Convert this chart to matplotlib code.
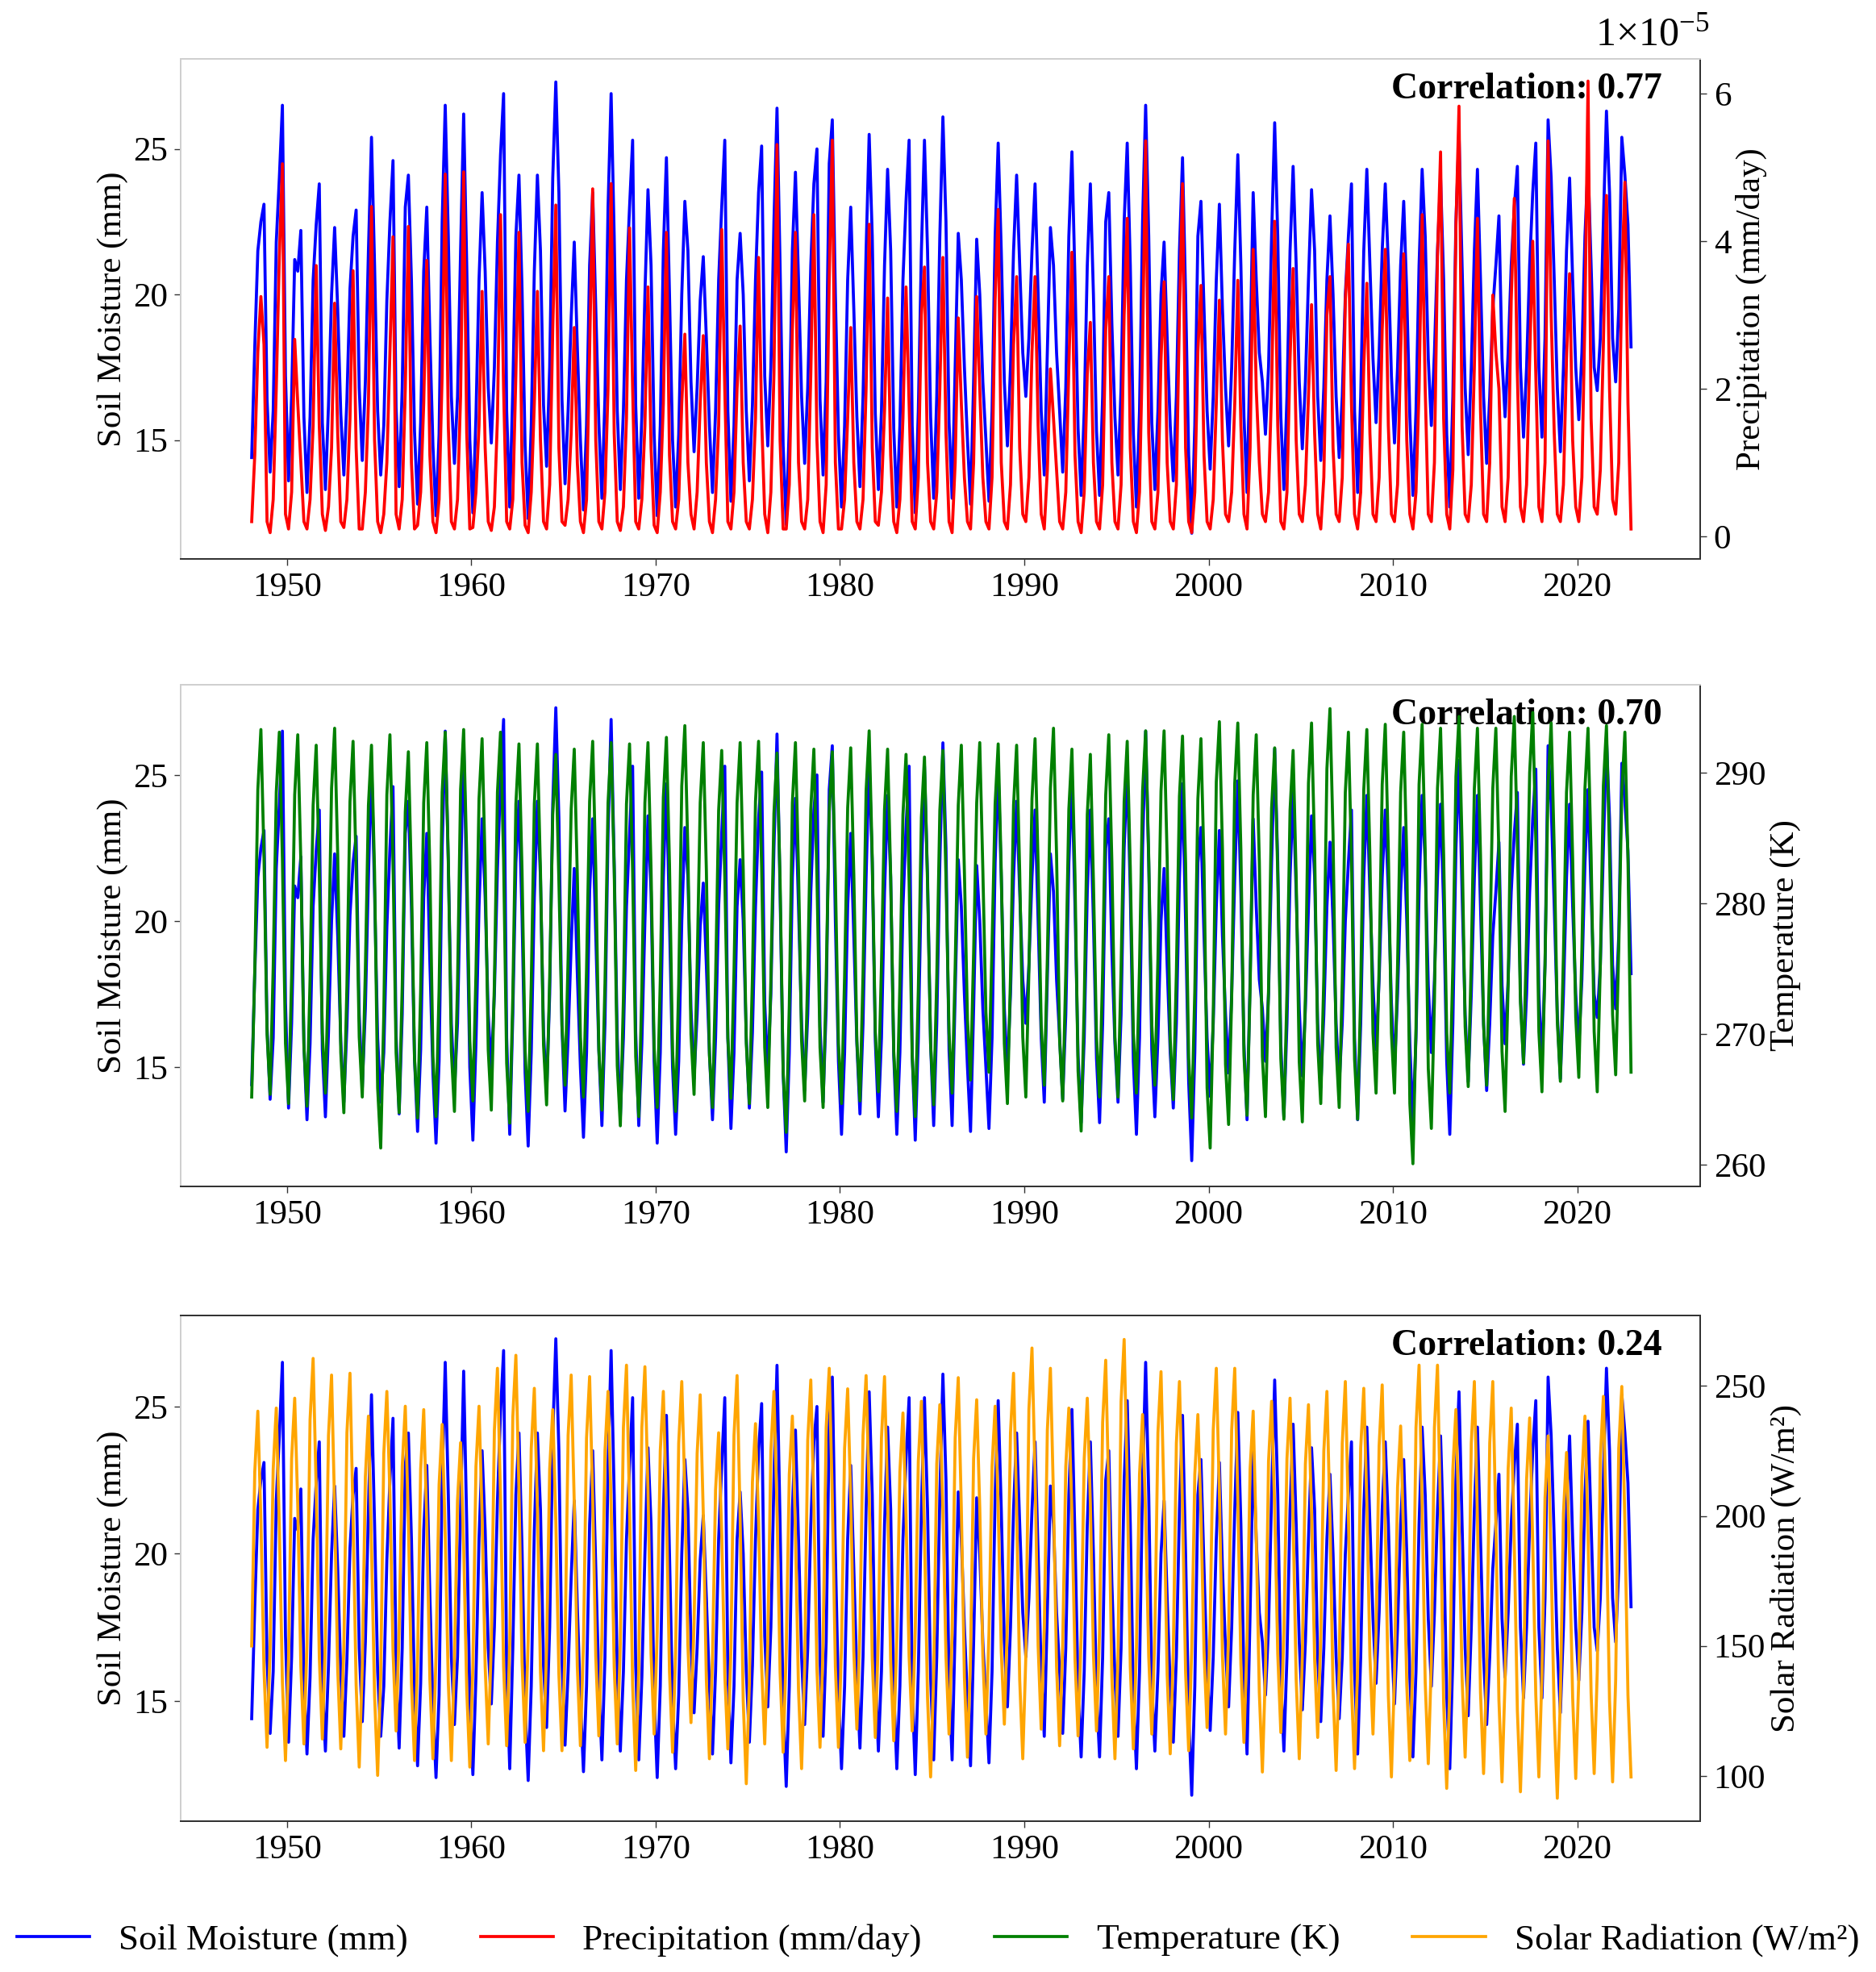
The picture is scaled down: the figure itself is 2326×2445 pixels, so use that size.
import matplotlib
matplotlib.use("Agg")
import matplotlib.pyplot as plt
from matplotlib.ticker import FixedLocator
from matplotlib.lines import Line2D

plt.rcParams['font.family'] = ['Liberation Serif', 'DejaVu Serif']
plt.rcParams['mathtext.fontset'] = 'custom'
plt.rcParams['mathtext.rm'] = 'Liberation Serif'
plt.rcParams['mathtext.it'] = 'Liberation Serif:italic'
plt.rcParams['mathtext.bf'] = 'Liberation Serif:bold'

# ---------------- data (bimonthly samples: Feb, Apr, Jun, Aug, Oct, Dec) ----------------
years = list(range(1948, 2023))
sample_months = [2, 4, 6, 8, 10, 12]
x_ticks = [1950, 1960, 1970, 1980, 1990, 2000, 2010, 2020]

soil_moisture = [
    14.4, 18.2, 21.5, 22.5, 23.1, 16.4,   # 1948
    13.9, 16.0, 21.8, 24.0, 26.5, 17.2,
    13.6, 16.5, 21.2, 20.8, 22.2, 15.8,   # 1950
    13.2, 15.8, 20.5, 22.4, 23.8, 15.6,
    13.3, 16.2, 20.0, 22.3, 19.5, 15.9,
    13.8, 16.4, 20.2, 22.0, 22.9, 16.8,
    14.3, 17.0, 21.5, 25.4, 21.0, 16.0,
    13.8, 15.5, 19.8, 22.5, 24.6, 16.1,   # 1955
    13.4, 16.8, 23.0, 24.1, 20.5, 15.3,
    12.8, 15.6, 20.8, 23.0, 18.6, 14.8,
    12.4, 15.2, 22.5, 26.5, 22.0, 16.5,
    14.2, 16.5, 21.5, 26.2, 21.0, 15.0,
    12.5, 15.8, 20.5, 23.5, 20.8, 16.8,   # 1960
    14.9, 17.5, 21.8, 24.8, 26.9, 16.0,
    12.7, 16.8, 22.0, 24.1, 20.2, 14.8,
    12.3, 15.5, 20.8, 24.1, 21.5, 16.2,
    14.1, 17.5, 24.0, 27.3, 23.5, 16.4,
    13.5, 16.0, 19.2, 21.8, 18.2, 15.0,   # 1965
    12.6, 15.5, 21.0, 23.5, 19.5, 15.6,
    13.0, 16.5, 23.0, 26.9, 22.0, 16.0,
    13.3, 16.0, 20.5, 23.0, 25.3, 16.2,
    13.0, 15.8, 20.0, 23.6, 21.0, 15.2,
    12.4, 15.5, 21.5, 24.7, 20.0, 15.0,   # 1970
    12.7, 15.2, 20.0, 23.2, 21.5, 17.0,
    14.6, 16.8, 19.8, 21.3, 18.5, 15.5,
    13.2, 16.0, 20.5, 23.0, 25.3, 16.0,
    12.9, 15.5, 20.5, 22.1, 20.0, 16.0,
    13.6, 16.2, 20.5, 23.5, 25.1, 17.2,   # 1975
    14.8, 17.5, 22.5, 26.4, 21.0, 14.8,
    12.1, 15.5, 21.5, 24.2, 20.5, 16.5,
    14.2, 16.8, 21.0, 23.8, 25.0, 16.4,
    13.8, 17.0, 24.5, 26.0, 20.0, 15.2,
    12.7, 15.5, 20.5, 23.0, 19.5, 15.8,   # 1980
    13.4, 16.5, 21.5, 25.5, 22.0, 15.9,
    13.3, 16.0, 21.0, 24.3, 21.5, 15.4,
    12.7, 15.5, 20.5, 23.2, 25.3, 15.5,
    12.5, 16.0, 21.5, 25.3, 21.5, 15.8,
    13.0, 16.5, 22.0, 26.1, 22.5, 15.6,   # 1985
    13.0, 17.5, 22.1, 20.5, 17.5, 15.0,
    12.8, 17.0, 21.9, 20.0, 17.0, 15.0,
    12.9, 16.0, 22.0, 25.2, 21.5, 17.0,
    14.8, 17.5, 21.5, 24.1, 21.0, 18.0,
    16.5, 18.5, 21.5, 23.8, 20.0, 16.0,   # 1990
    13.8, 18.0, 22.3, 21.0, 18.0, 16.0,
    13.9, 16.8, 22.0, 24.9, 20.5, 15.4,
    13.1, 16.0, 21.0, 23.8, 20.0, 15.3,
    13.1, 16.5, 22.5, 23.5, 19.0, 15.8,
    13.8, 16.8, 22.5, 25.2, 21.0, 15.2,   # 1995
    12.7, 16.0, 22.5, 26.5, 22.0, 15.6,
    13.3, 16.0, 20.0, 21.8, 18.5, 15.5,
    13.6, 16.5, 21.5, 24.7, 20.0, 14.5,
    11.8, 15.5, 22.0, 23.2, 19.5, 16.0,
    14.0, 16.5, 20.5, 23.1, 19.5, 16.8,   # 2000
    14.8, 17.5, 21.5, 24.8, 21.0, 15.8,
    13.2, 18.0, 23.5, 20.5, 18.0, 17.0,
    15.2, 17.5, 22.0, 25.9, 22.0, 15.8,
    13.3, 16.5, 21.5, 24.4, 21.0, 17.0,
    14.7, 17.0, 20.5, 23.6, 21.5, 16.5,   # 2005
    14.3, 16.8, 20.5, 22.7, 20.0, 16.5,
    14.4, 16.5, 20.0, 22.0, 23.8, 16.0,
    13.2, 16.5, 21.5, 24.3, 21.0, 17.8,
    15.6, 18.0, 21.5, 23.8, 21.0, 17.2,
    14.9, 17.5, 21.0, 23.2, 20.0, 15.8,   # 2010
    13.1, 16.0, 21.0, 24.3, 22.0, 17.8,
    15.5, 18.0, 21.5, 24.0, 20.5, 15.2,
    12.7, 16.5, 22.5, 25.5, 21.0, 16.8,
    14.5, 17.5, 21.5, 24.3, 20.5, 16.5,
    14.2, 16.5, 19.5, 21.0, 22.7, 17.8,   # 2015
    15.8, 18.0, 21.0, 23.0, 24.4, 17.5,
    15.1, 17.5, 21.0, 23.5, 25.2, 17.5,
    15.1, 18.5, 26.0, 24.0, 20.5, 16.8,
    14.6, 17.5, 21.5, 24.0, 20.5, 17.5,
    15.7, 18.0, 22.0, 24.5, 21.0, 17.5,   # 2020
    16.7, 18.5, 22.5, 26.3, 23.5, 18.5,
    17.0, 19.5, 25.4, 24.1, 22.4, 18.2,   # 2022
]

# precipitation in units of 1e-5
precipitation = [
    0.20, 1.10, 2.50, 3.25, 2.60, 0.20,   # 1948
    0.05, 0.50, 2.00, 3.80, 5.05, 0.30,
    0.10, 0.60, 2.67, 1.80, 1.00, 0.20,   # 1950
    0.10, 0.50, 1.50, 3.67, 1.50, 0.30,
    0.08, 0.40, 1.20, 3.16, 1.40, 0.20,
    0.12, 0.50, 1.60, 3.60, 1.20, 0.10,
    0.10, 0.60, 1.80, 4.47, 1.30, 0.20,
    0.05, 0.30, 1.00, 2.50, 4.06, 0.30,   # 1955
    0.10, 0.50, 2.00, 4.20, 1.00, 0.10,
    0.15, 0.60, 1.80, 3.74, 1.10, 0.20,
    0.05, 0.50, 2.20, 4.91, 1.50, 0.20,
    0.10, 0.50, 1.90, 4.94, 1.40, 0.10,
    0.12, 0.60, 1.50, 3.32, 1.20, 0.20,   # 1960
    0.08, 0.40, 1.60, 4.36, 2.00, 0.20,
    0.10, 0.50, 2.20, 4.12, 1.00, 0.15,
    0.05, 0.60, 1.80, 3.32, 1.30, 0.20,
    0.10, 0.70, 2.80, 4.49, 1.20, 0.20,
    0.15, 0.50, 1.40, 2.83, 1.00, 0.20,   # 1965
    0.05, 0.50, 2.50, 4.71, 1.30, 0.20,
    0.10, 0.60, 2.00, 4.78, 1.40, 0.20,
    0.08, 0.40, 1.60, 4.18, 2.00, 0.20,
    0.10, 0.50, 1.50, 3.38, 1.20, 0.15,
    0.05, 0.60, 1.80, 4.12, 1.10, 0.20,   # 1970
    0.10, 0.50, 1.80, 2.74, 1.00, 0.30,
    0.10, 0.60, 1.80, 2.72, 1.00, 0.20,
    0.05, 0.50, 1.50, 4.16, 2.00, 0.20,
    0.10, 0.60, 2.00, 2.85, 1.00, 0.20,
    0.10, 0.50, 1.60, 3.78, 1.60, 0.30,   # 1975
    0.05, 0.60, 2.20, 5.31, 1.30, 0.10,
    0.10, 0.70, 2.80, 4.12, 1.00, 0.20,
    0.10, 0.50, 2.20, 4.36, 1.30, 0.20,
    0.05, 0.70, 3.50, 5.37, 1.00, 0.10,
    0.10, 0.50, 1.60, 2.83, 1.00, 0.20,   # 1980
    0.10, 0.50, 2.00, 4.23, 1.20, 0.20,
    0.15, 0.60, 1.70, 3.23, 1.10, 0.20,
    0.05, 0.50, 1.60, 3.38, 1.80, 0.20,
    0.10, 0.80, 3.00, 3.65, 1.00, 0.20,
    0.10, 0.60, 2.00, 3.78, 1.40, 0.20,   # 1985
    0.05, 1.00, 2.96, 1.80, 0.80, 0.20,
    0.10, 1.00, 3.25, 2.00, 0.80, 0.20,
    0.10, 0.80, 3.20, 4.43, 1.00, 0.20,
    0.10, 0.70, 2.60, 3.52, 1.20, 0.30,
    0.20, 0.80, 2.50, 3.52, 1.50, 0.30,   # 1990
    0.10, 0.90, 2.27, 1.60, 0.90, 0.20,
    0.10, 0.60, 2.30, 3.85, 1.10, 0.20,
    0.05, 0.60, 2.20, 2.90, 1.00, 0.20,
    0.10, 0.70, 2.80, 3.52, 1.00, 0.20,
    0.10, 0.70, 3.00, 4.31, 1.20, 0.20,   # 1995
    0.05, 0.60, 2.60, 5.36, 1.40, 0.20,
    0.10, 0.60, 2.40, 3.45, 1.00, 0.20,
    0.10, 0.70, 3.00, 4.78, 1.20, 0.20,
    0.05, 0.60, 2.50, 3.40, 1.10, 0.20,
    0.10, 0.50, 1.80, 3.20, 1.30, 0.30,   # 2000
    0.20, 0.60, 1.80, 3.47, 1.50, 0.30,
    0.10, 1.20, 3.89, 2.00, 1.00, 0.30,
    0.20, 0.60, 2.00, 4.27, 1.50, 0.20,
    0.10, 0.60, 2.40, 3.63, 1.30, 0.30,
    0.20, 0.70, 1.90, 3.14, 1.40, 0.30,   # 2005
    0.10, 0.80, 3.00, 3.52, 1.20, 0.30,
    0.20, 0.80, 3.20, 3.96, 1.80, 0.30,
    0.10, 0.60, 2.30, 3.43, 1.40, 0.30,
    0.20, 0.80, 2.80, 3.89, 1.50, 0.30,
    0.20, 0.70, 2.50, 3.83, 1.30, 0.30,   # 2010
    0.10, 0.60, 2.00, 4.36, 2.00, 0.30,
    0.20, 1.00, 3.80, 5.21, 1.60, 0.30,
    0.10, 0.90, 4.20, 5.83, 1.50, 0.30,
    0.20, 0.70, 2.30, 4.31, 1.70, 0.30,
    0.20, 1.00, 3.27, 2.50, 2.00, 0.40,   # 2015
    0.20, 0.80, 3.20, 4.58, 2.20, 0.40,
    0.20, 0.70, 2.40, 4.00, 2.20, 0.40,
    0.20, 1.00, 5.36, 3.00, 1.40, 0.30,
    0.20, 0.70, 2.40, 3.56, 1.30, 0.40,
    0.20, 0.80, 3.00, 6.17, 1.60, 0.40,   # 2020
    0.30, 0.90, 2.60, 4.62, 2.00, 0.50,
    0.30, 1.00, 3.50, 4.80, 1.80, 0.10,   # 2022
]

temperature = [
    265.2, 274.9, 288.7, 293.3, 283.6, 270.0,   # 1948
    265.4, 275.1, 288.5, 293.1, 283.4, 269.3,
    264.7, 274.4, 288.3, 292.9, 283.2, 269.1,   # 1950
    264.5, 274.2, 287.5, 292.1, 282.4, 270.1,
    265.5, 275.2, 288.8, 293.4, 283.7, 268.6,
    264.0, 273.7, 287.8, 292.4, 282.7, 269.8,
    265.2, 274.9, 287.5, 292.1, 282.4, 265.9,
    261.3, 271.5, 288.3, 292.9, 283.2, 268.6,   # 1955
    264.0, 273.7, 287.0, 291.6, 281.9, 268.2,
    263.6, 273.3, 287.7, 292.3, 282.6, 268.3,
    263.7, 273.4, 288.5, 293.1, 283.4, 268.7,
    264.1, 273.8, 288.7, 293.3, 283.6, 269.5,
    264.9, 274.6, 288.0, 292.6, 282.9, 268.8,   # 1960
    264.2, 273.9, 288.5, 293.1, 283.4, 267.8,
    263.2, 272.9, 287.6, 292.2, 282.5, 268.7,
    264.1, 273.8, 287.6, 292.2, 282.5, 269.2,
    264.6, 274.3, 286.8, 291.4, 281.7, 270.7,
    266.1, 275.8, 287.2, 291.8, 282.1, 269.8,   # 1965
    265.2, 274.9, 287.8, 292.4, 282.7, 268.8,
    264.2, 273.9, 287.7, 292.3, 282.6, 267.6,
    263.0, 272.7, 287.6, 292.2, 282.5, 268.3,
    263.7, 273.4, 287.7, 292.3, 282.6, 269.0,
    264.4, 274.1, 288.1, 292.7, 283.0, 268.7,   # 1970
    264.1, 273.8, 289.0, 293.6, 283.9, 270.0,
    265.4, 275.1, 287.7, 292.3, 282.6, 268.4,
    264.4, 274.1, 287.1, 291.7, 282.0, 269.7,
    265.1, 274.8, 287.7, 292.3, 282.6, 269.3,
    264.7, 274.4, 287.8, 292.4, 282.7, 269.0,   # 1975
    264.4, 274.1, 286.9, 291.5, 281.8, 267.1,
    262.5, 272.2, 287.7, 292.3, 282.6, 269.5,
    264.9, 274.6, 287.2, 291.8, 282.1, 269.0,
    264.4, 274.1, 287.0, 291.6, 281.9, 269.3,
    264.7, 274.4, 287.3, 291.9, 282.2, 269.5,   # 1980
    264.9, 274.6, 288.6, 293.2, 283.5, 270.2,
    265.6, 275.3, 287.2, 291.8, 282.1, 268.7,
    264.1, 273.8, 286.8, 291.4, 281.7, 268.3,
    263.7, 273.4, 286.6, 291.2, 281.5, 269.2,
    264.6, 274.3, 287.1, 291.7, 282.0, 270.1,   # 1985
    265.5, 275.2, 287.5, 292.1, 282.4, 271.1,
    266.5, 276.2, 287.7, 292.3, 282.6, 271.7,
    267.1, 276.8, 287.6, 292.2, 282.5, 269.3,
    264.7, 274.4, 287.5, 292.1, 282.4, 269.8,
    265.2, 274.9, 288.0, 292.6, 282.9, 270.7,   # 1990
    266.1, 275.8, 288.8, 293.4, 283.7, 269.5,
    264.9, 274.6, 287.2, 291.8, 282.1, 267.2,
    262.6, 272.3, 286.8, 291.4, 281.7, 269.8,
    265.2, 274.9, 288.3, 292.9, 283.2, 269.8,
    265.2, 274.9, 287.8, 292.4, 282.7, 270.1,   # 1995
    265.5, 275.2, 288.6, 293.2, 283.5, 270.7,
    266.1, 275.8, 288.6, 293.2, 283.5, 269.6,
    265.0, 274.7, 288.2, 292.8, 283.1, 268.2,
    263.6, 273.3, 288.0, 292.6, 282.9, 265.9,
    261.3, 271.5, 289.3, 293.9, 284.2, 267.7,   # 2000
    263.1, 272.8, 289.2, 293.8, 284.1, 268.4,
    263.8, 273.5, 288.3, 292.9, 283.2, 268.3,
    263.7, 273.4, 287.3, 291.9, 282.2, 268.1,
    263.5, 273.2, 287.1, 291.7, 282.0, 267.9,
    263.3, 273.0, 289.2, 293.8, 284.1, 269.3,   # 2005
    264.7, 274.4, 290.3, 294.9, 285.2, 269.0,
    264.4, 274.1, 288.5, 293.1, 283.4, 268.1,
    263.5, 273.2, 288.7, 293.3, 283.6, 270.1,
    265.5, 275.2, 289.1, 293.7, 284.0, 270.1,
    265.5, 275.2, 288.5, 293.1, 283.4, 264.7,   # 2010
    260.1, 270.5, 289.1, 293.7, 284.0, 267.4,
    262.8, 272.5, 288.8, 293.4, 283.7, 270.1,
    265.5, 275.2, 289.7, 294.3, 284.6, 270.6,
    266.0, 275.7, 288.8, 293.4, 283.7, 270.7,
    266.1, 275.8, 288.8, 293.4, 283.7, 268.7,   # 2015
    264.1, 273.8, 289.7, 294.3, 284.6, 272.4,
    267.8, 277.5, 290.0, 294.6, 284.9, 270.2,
    265.6, 275.3, 289.2, 293.8, 284.1, 271.0,
    266.4, 276.1, 288.5, 293.1, 283.4, 271.3,
    266.7, 276.4, 288.8, 293.4, 283.7, 270.2,   # 2020
    265.6, 275.3, 289.0, 293.6, 283.9, 271.5,
    266.9, 276.6, 288.5, 293.1, 283.4, 267.1,   # 2022
]

solar_radiation = [
    150, 217, 240.3, 198, 141, 111.0,   # 1948
    150, 218, 241.5, 196, 136, 105.9,
    145, 222, 245.3, 204, 142, 112.3,   # 1950
    151, 237, 260.6, 210, 146, 114.2,
    153, 231, 254.2, 203, 141, 110.4,
    150, 232, 254.9, 199, 135, 103.4,
    142, 215, 238.4, 188, 131, 100.2,
    139, 224, 247.9, 208, 148, 117.3,   # 1955
    156, 219, 242.2, 198, 136, 105.9,
    145, 218, 240.9, 197, 137, 106.6,
    146, 212, 235.2, 193, 136, 105.9,
    145, 206, 228.2, 188, 133, 103.4,
    142, 219, 242.2, 200, 142, 112.3,   # 1960
    151, 233, 256.8, 207, 142, 111.6,
    151, 238, 261.8, 210, 144, 112.9,
    152, 226, 249.1, 203, 140, 109.7,
    149, 218, 240.9, 198, 139, 109.7,
    149, 231, 254.2, 205, 142, 111.6,   # 1965
    151, 230, 253.6, 207, 146, 115.4,
    154, 225, 247.9, 204, 142, 112.3,
    151, 234, 258.0, 203, 135, 102.1,
    141, 234, 257.4, 210, 147, 116.1,
    155, 225, 247.9, 203, 140, 109.1,   # 1970
    148, 228, 251.7, 210, 150, 120.5,
    159, 224, 246.6, 201, 137, 106.6,
    146, 210, 232.0, 193, 139, 110.4,
    149, 231, 254.0, 199, 129, 97.0,
    136, 213, 235.5, 198, 142, 112.3,   # 1975
    151, 225, 247.9, 203, 140, 109.1,
    148, 216, 238.4, 194, 133, 102.8,
    142, 229, 252.3, 204, 141, 111.0,
    150, 234, 256.8, 207, 142, 111.0,
    150, 226, 248.9, 207, 148, 118.0,   # 1980
    157, 231, 254.0, 208, 145, 114.8,
    154, 230, 253.6, 207, 144, 113.5,
    153, 217, 239.6, 200, 146, 117.3,
    156, 221, 244.1, 193, 130, 99.6,
    139, 220, 242.8, 202, 146, 116.1,   # 1985
    155, 230, 253.2, 203, 138, 107.2,
    146, 222, 244.7, 203, 146, 116.1,
    155, 219, 242.2, 203, 148, 119.9,
    159, 232, 254.9, 203, 137, 106.6,
    146, 241, 264.6, 216, 150, 118.0,   # 1990
    157, 233, 256.8, 207, 142, 111.6,
    151, 219, 241.5, 201, 145, 115.4,
    154, 222, 245.3, 205, 147, 117.3,
    156, 236, 259.9, 208, 138, 106.6,
    146, 244, 267.9, 214, 142, 110.4,   # 1995
    149, 216, 239.0, 200, 146, 116.1,
    155, 232, 255.5, 205, 139, 108.5,
    148, 228, 251.7, 203, 140, 109.7,
    149, 216, 239.0, 201, 148, 118.6,
    158, 233, 256.8, 209, 146, 116.1,   # 2000
    155, 233, 256.8, 207, 143, 112.9,
    152, 218, 240.3, 191, 132, 101.5,
    141, 221, 244.1, 203, 147, 116.7,
    156, 222, 245.3, 199, 137, 106.6,
    146, 220, 242.8, 201, 145, 114.8,   # 2005
    154, 225, 247.9, 199, 133, 102.1,
    141, 228, 251.7, 200, 134, 102.8,
    142, 226, 249.1, 205, 146, 116.1,
    155, 227, 250.4, 197, 131, 99.6,
    139, 211, 234.6, 190, 135, 105.9,   # 2010
    145, 234, 258.0, 203, 136, 104.7,
    144, 234, 258.0, 199, 128, 95.2,
    134, 218, 240.9, 196, 138, 107.2,
    146, 228, 251.7, 199, 132, 100.9,
    140, 228, 251.7, 197, 129, 97.7,    # 2015
    137, 218, 241.5, 189, 125, 93.9,
    133, 214, 237.7, 190, 131, 99.6,
    139, 207, 230.8, 182, 123, 91.4,
    130, 201, 224.4, 184, 130, 99.0,
    138, 215, 238.4, 193, 132, 100.9,   # 2020
    140, 222, 246.0, 195, 129, 97.7,
    137, 226, 249.8, 197, 131, 99.6,    # 2022
]

correlations = [0.77, 0.70, 0.24]
right_labels = ['Precipitation (mm/day)', 'Temperature (K)', 'Solar Radiation (W/m²)']
legend_labels = ['Soil Moisture (mm)', 'Precipitation (mm/day)', 'Temperature (K)',
                 'Solar Radiation (W/m²)']

# ---------------- figure ----------------
t = [y + (m - 1) / 12.0 for y in years for m in sample_months]

FS = 31
fig = plt.figure(figsize=(23.26, 24.45), dpi=100)

left, width = 0.0965, 0.8098
rows = [(0.7166, 0.2535), (0.3984, 0.2544), (0.0765, 0.2564)]
series = [precipitation, temperature, solar_radiation]
colors = ['red', 'green', 'orange']
ylims_right = [(-0.305, 6.47), (258.37, 296.73), (82.6, 277.1)]
rticks = [[0, 2, 4, 6], [260, 270, 280, 290], [100, 150, 200, 250]]
LW = 2.7
light = '#cfcfcf'
dark = '#333333'

for i in range(3):
    b, h = rows[i]
    ax1 = fig.add_axes([left, b, width, h])
    ax1.plot(t, soil_moisture, color='blue', lw=LW)
    ax1.set_xlim(1944.25, 2026.67)
    ax1.set_ylim(10.92, 28.09)
    ax1.set_yticks([15, 20, 25])
    ax1.xaxis.set_major_locator(FixedLocator(x_ticks))
    ax1.set_xticklabels([str(v) for v in x_ticks])
    ax1.set_ylabel('Soil Moisture (mm)', fontsize=FS)
    ax1.tick_params(axis='both', labelsize=FS, direction='out', length=6, width=1.0, pad=6,
                    color=dark)
    ax1.text(0.975, 0.973, 'Correlation: %.2f' % correlations[i], transform=ax1.transAxes,
             ha='right', va='top', fontsize=33, fontweight='bold')

    ax2 = ax1.twinx()
    ax2.plot(t, series[i], color=colors[i], lw=LW)
    ax2.set_ylim(*ylims_right[i])
    ax2.set_yticks(rticks[i])
    ax2.set_ylabel(right_labels[i], fontsize=FS)
    ax2.tick_params(axis='y', labelsize=FS, direction='out', length=6, width=1.0, pad=6,
                    color=dark)

    for ax in (ax1, ax2):
        ax.spines['left'].set_color(light)
        ax.spines['top'].set_color(dark if i == 2 else light)
        ax.spines['bottom'].set_color(dark)
        ax.spines['right'].set_color(dark)
        for s in ax.spines.values():
            s.set_linewidth(1.4)

    if i == 0:
        ax2.text(1.006, 1.01, r'$1{\times}10^{-5}$', transform=ax2.transAxes,
                 ha='right', va='bottom', fontsize=36)

handles = [Line2D([], [], color=c, lw=LW) for c in ['blue', 'red', 'green', 'orange']]
fig.legend(handles, legend_labels, loc='center', bbox_to_anchor=(0.5, 0.016), ncol=4,
           frameon=False, fontsize=32.5, handlelength=2.0, columnspacing=2.0,
           handletextpad=0.8)

fig.savefig('out.png', dpi=100)
